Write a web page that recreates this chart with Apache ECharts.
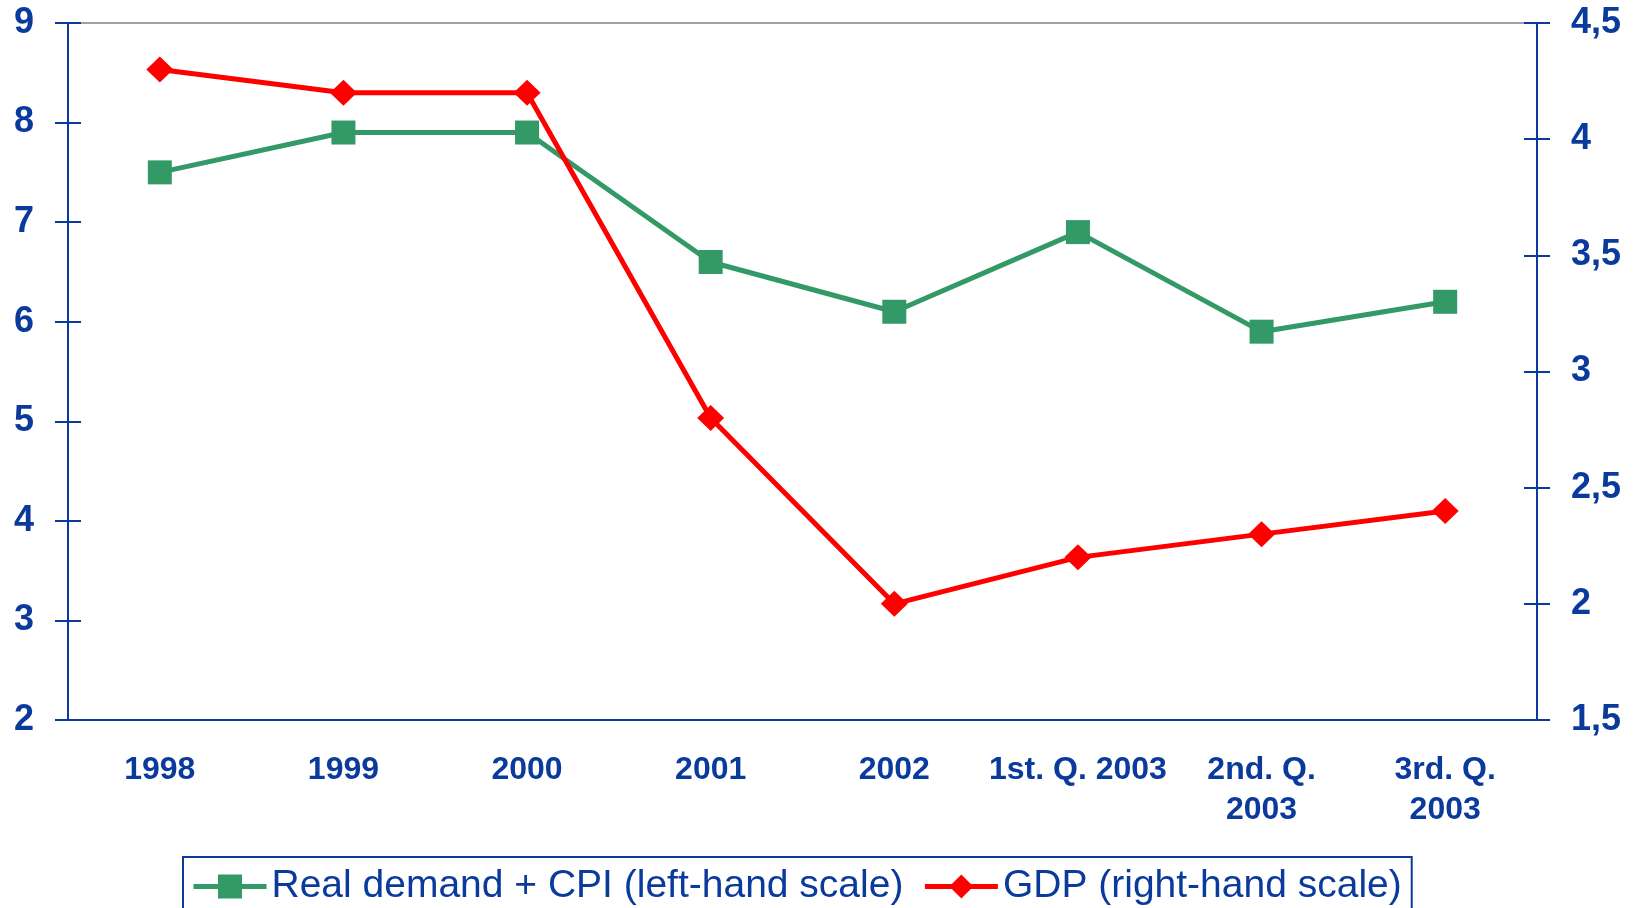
<!DOCTYPE html>
<html>
<head>
<meta charset="utf-8">
<script src="https://cdn.jsdelivr.net/npm/echarts@6/dist/echarts.min.js"></script>
<style>
  html, body { margin: 0; padding: 0; background: #fff; }
  #chart { width: 1637px; height: 908px; }
</style>
</head>
<body>
<div id="chart"></div>
<script>
// categories on the x axis
const categories = ['1998', '1999', '2000', '2001', '2002', '1st. Q. 2003', '2nd. Q.\n2003', '3rd. Q.\n2003'];
// left-hand scale
const demandCpi = [7.5, 7.9, 7.9, 6.6, 6.1, 6.9, 5.9, 6.2];
// right-hand scale
const gdp = [4.3, 4.2, 4.2, 2.8, 2.0, 2.2, 2.3, 2.4];
const leftScale = [2, 9, 1];     // min, max, step
const rightScale = [1.5, 4.5, 0.5];

const blue = '#0a3a9c';
const labelFont = { color: blue, fontWeight: 'bold', fontFamily: 'Liberation Sans' };

function yAx(pos, scale, inner, fmt) {
  return {
    type: 'value', position: pos,
    min: scale[0], max: scale[1], interval: scale[2],
    splitLine: { show: false },
    axisLine: { show: !inner, lineStyle: { color: blue, width: 2 } },
    axisTick: { show: true, inside: inner, length: 13, lineStyle: { color: blue, width: 2 } },
    axisLabel: Object.assign({ show: !inner, fontSize: 36, margin: 34, formatter: fmt }, labelFont)
  };
}

const option = {
  animation: false,
  grid: { left: 68, right: 100, top: 23, bottom: 188, containLabel: false },
  legend: {
    left: 183, top: 857,
    padding: [10, 10, 30, 8],
    itemGap: 19,
    itemWidth: 73, itemHeight: 30,
    borderColor: blue, borderWidth: 2,
    lineStyle: { width: 5 },
    textStyle: { color: blue, fontSize: 39, fontFamily: 'Liberation Sans' },
    data: ['Real demand + CPI (left-hand scale)', 'GDP (right-hand scale)']
  },
  xAxis: [
    {
      type: 'category', position: 'bottom', data: categories,
      axisLine: { lineStyle: { color: blue, width: 2 } },
      axisTick: { length: 10, lineStyle: { color: blue, width: 2 } },
      axisLabel: Object.assign({ interval: 0, fontSize: 32, lineHeight: 40, margin: 30 }, labelFont)
    },
    {
      type: 'category', position: 'bottom', data: categories,
      axisLine: { show: false },
      axisTick: { inside: true, length: 10, lineStyle: { color: blue, width: 2 } },
      axisLabel: { show: false }
    },
    {
      type: 'category', position: 'top', data: categories,
      axisLine: { lineStyle: { color: '#a0a0a0', width: 2 } },
      axisTick: { show: false },
      axisLabel: { show: false }
    }
  ],
  yAxis: [
    yAx('left', leftScale, false, v => String(v)),
    yAx('right', rightScale, false, v => String(v).replace('.', ',')),
    yAx('left', leftScale, true),
    yAx('right', rightScale, true)
  ],
  series: [
    {
      name: 'Real demand + CPI (left-hand scale)',
      type: 'line', yAxisIndex: 0, data: demandCpi,
      symbol: 'rect', symbolSize: 24,
      lineStyle: { color: '#339966', width: 5 },
      itemStyle: { color: '#339966' }
    },
    {
      name: 'GDP (right-hand scale)',
      type: 'line', yAxisIndex: 1, data: gdp,
      symbol: 'diamond', symbolSize: [27, 26],
      lineStyle: { color: '#ff0000', width: 5 },
      itemStyle: { color: '#ff0000' }
    }
  ]
};

const myChart = echarts.init(document.getElementById('chart'));
myChart.setOption(option);
window.addEventListener('resize', () => { myChart.resize(); });
</script>
</body>
</html>
